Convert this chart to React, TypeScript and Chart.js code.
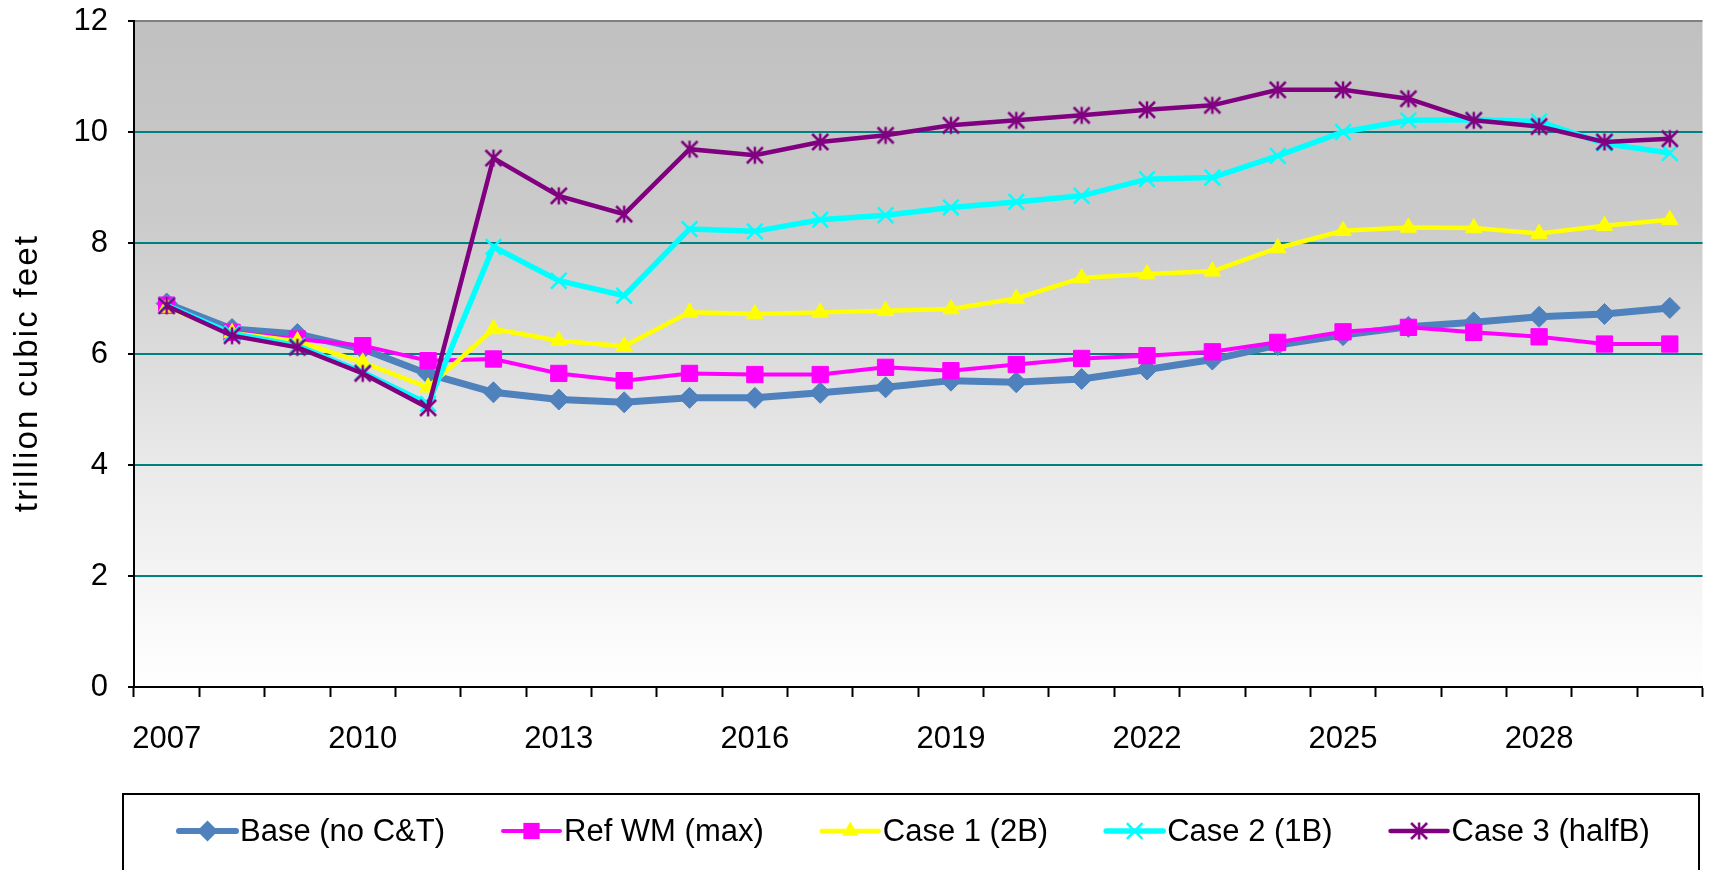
import React, { useEffect, useRef } from "react";
import { Chart, registerables } from "chart.js";

Chart.register(...registerables);

const years = [
  "2007", "2008", "2009", "2010", "2011", "2012", "2013", "2014", "2015", "2016", "2017", "2018",
  "2019", "2020", "2021", "2022", "2023", "2024", "2025", "2026", "2027", "2028", "2029", "2030",
];

const baseNoCT = [6.91, 6.45, 6.36, 6.09, 5.64, 5.31, 5.18, 5.13, 5.21, 5.21, 5.3, 5.4, 5.52, 5.49, 5.55, 5.72, 5.9, 6.16, 6.34, 6.49, 6.57, 6.67, 6.72, 6.83];
const refWM = [6.88, 6.39, 6.27, 6.15, 5.88, 5.91, 5.65, 5.52, 5.65, 5.63, 5.63, 5.76, 5.7, 5.81, 5.92, 5.97, 6.04, 6.21, 6.4, 6.48, 6.39, 6.31, 6.18, 6.18];
const case1 = [6.84, 6.38, 6.23, 5.85, 5.4, 6.45, 6.24, 6.14, 6.75, 6.72, 6.75, 6.78, 6.81, 7.0, 7.37, 7.44, 7.49, 7.91, 8.22, 8.28, 8.27, 8.17, 8.31, 8.42];
const case2 = [6.88, 6.37, 6.15, 5.67, 5.1, 7.93, 7.32, 7.05, 8.25, 8.21, 8.42, 8.5, 8.64, 8.74, 8.85, 9.15, 9.18, 9.57, 10.0, 10.21, 10.22, 10.19, 9.79, 9.62];
const case3 = [6.87, 6.33, 6.12, 5.65, 5.03, 9.53, 8.85, 8.52, 9.69, 9.58, 9.82, 9.94, 10.12, 10.21, 10.3, 10.4, 10.48, 10.76, 10.76, 10.6, 10.21, 10.1, 9.82, 9.88];

const seriesLabels = ["Base (no C&T)", "Ref WM (max)", "Case 1 (2B)", "Case 2 (1B)", "Case 3 (halfB)"];
const yTitle = "trillion cubic feet";

const FONT = "'Liberation Sans', Arial, sans-serif";

function makeStar(color: string) {
  const c = document.createElement("canvas");
  c.width = 20;
  c.height = 20;
  const g = c.getContext("2d")!;
  g.strokeStyle = color;
  g.lineWidth = 2.5;
  g.beginPath();
  g.moveTo(2, 2);
  g.lineTo(18, 18);
  g.moveTo(2, 18);
  g.lineTo(18, 2);
  g.moveTo(10, 1.5);
  g.lineTo(10, 18.5);
  g.stroke();
  return c;
}

function drawMarker(ctx: CanvasRenderingContext2D, style: any, x: number, y: number, r: number, color: string, bw: number) {
  ctx.save();
  ctx.fillStyle = color;
  ctx.strokeStyle = color;
  ctx.lineWidth = bw;
  ctx.beginPath();
  if (typeof style !== "string") {
    ctx.drawImage(style, x - style.width / 2, y - style.height / 2);
  } else if (style === "rectRot") {
    ctx.moveTo(x - r, y);
    ctx.lineTo(x, y - r);
    ctx.lineTo(x + r, y);
    ctx.lineTo(x, y + r);
    ctx.closePath();
    ctx.fill();
  } else if (style === "rect") {
    const s = Math.SQRT1_2 * r;
    ctx.rect(x - s, y - s, 2 * s, 2 * s);
    ctx.fill();
  } else if (style === "triangle") {
    let a = 0;
    ctx.moveTo(x + Math.sin(a) * r, y - Math.cos(a) * r);
    a += (2 * Math.PI) / 3;
    ctx.lineTo(x + Math.sin(a) * r, y - Math.cos(a) * r);
    a += (2 * Math.PI) / 3;
    ctx.lineTo(x + Math.sin(a) * r, y - Math.cos(a) * r);
    ctx.closePath();
    ctx.fill();
  } else if (style === "crossRot") {
    const d = Math.SQRT1_2 * r;
    ctx.moveTo(x - d, y - d);
    ctx.lineTo(x + d, y + d);
    ctx.moveTo(x - d, y + d);
    ctx.lineTo(x + d, y - d);
    ctx.stroke();
  }
  ctx.restore();
}

const bgPlugin = {
  id: "plotBg",
  beforeDraw(chart: any) {
    const { ctx, chartArea } = chart;
    if (!chartArea) return;
    const g = ctx.createLinearGradient(0, chartArea.top, 0, chartArea.bottom);
    g.addColorStop(0, "#c0c0c0");
    g.addColorStop(0.3, "#cbcbcb");
    g.addColorStop(0.65, "#e8e8e8");
    g.addColorStop(1, "#ffffff");
    ctx.save();
    ctx.fillStyle = g;
    ctx.fillRect(chartArea.left, chartArea.top, chartArea.right - chartArea.left, chartArea.bottom - chartArea.top);
    ctx.restore();
  },
};

const yTitlePlugin = {
  id: "yTitle",
  afterDraw(chart: any) {
    const ctx: any = chart.ctx;
    ctx.save();
    ctx.translate(37, 374);
    ctx.rotate(-Math.PI / 2);
    ctx.font = `33px ${FONT}`;
    ctx.fillStyle = "#000000";
    ctx.textAlign = "center";
    ctx.textBaseline = "alphabetic";
    try { ctx.letterSpacing = "2.2px"; } catch (e) {}
    ctx.fillText(yTitle, 1, 0);
    ctx.restore();
  },
};

const legendPlugin = {
  id: "boxLegend",
  afterDraw(chart: any) {
    const ctx: CanvasRenderingContext2D = chart.ctx;
    ctx.save();
    ctx.strokeStyle = "#000000";
    ctx.lineWidth = 2;
    ctx.strokeRect(123, 794, 1699 - 123, 120);
    ctx.font = `31px ${FONT}`;
    ctx.textBaseline = "middle";
    ctx.textAlign = "left";
    const y = 831;
    let x = 179;
    const symW = 57;
    chart.data.datasets.forEach((ds: any) => {
      ctx.save();
      ctx.strokeStyle = ds.borderColor;
      ctx.lineWidth = Math.min(ds.borderWidth, 6);
      ctx.lineCap = "round";
      ctx.beginPath();
      ctx.moveTo(x, y);
      ctx.lineTo(x + symW, y);
      ctx.stroke();
      ctx.restore();
      drawMarker(ctx, ds.pointStyle, x + symW / 2, y, ds.pointRadius, ds.borderColor, ds.pointBorderWidth);
      ctx.fillStyle = "#000000";
      const tx = x + symW + 4;
      ctx.fillText(ds.label, tx, y + 1);
      x = tx + ctx.measureText(ds.label).width + 58;
    });
    ctx.restore();
  },
};

export default function App() {
  const ref = useRef<HTMLCanvasElement | null>(null);

  useEffect(() => {
    if (!ref.current) return;
    Chart.defaults.font.family = FONT;
    const star = makeStar("#800080");
    const chart = new Chart(ref.current, {
      type: "line",
      data: {
        labels: years,
        datasets: [
          { label: seriesLabels[0], data: baseNoCT, borderColor: "#4F81BD", backgroundColor: "#4F81BD", borderWidth: 7, pointStyle: "rectRot", pointRadius: 10.5, pointHoverRadius: 10.5, pointBorderWidth: 1, pointBackgroundColor: "#4F81BD", pointBorderColor: "#4F81BD", order: 4, tension: 0 },
          { label: seriesLabels[1], data: refWM, borderColor: "#FF00FF", backgroundColor: "#FF00FF", borderWidth: 4, pointStyle: "rect", pointRadius: 11.5, pointHoverRadius: 11.5, pointBorderWidth: 1, pointBackgroundColor: "#FF00FF", pointBorderColor: "#FF00FF", order: 3, tension: 0 },
          { label: seriesLabels[2], data: case1, borderColor: "#FFFF00", backgroundColor: "#FFFF00", borderWidth: 4.5, pointStyle: "triangle", pointRadius: 9.5, pointHoverRadius: 9.5, pointBorderWidth: 1, pointBackgroundColor: "#FFFF00", pointBorderColor: "#FFFF00", order: 2, tension: 0 },
          { label: seriesLabels[3], data: case2, borderColor: "#00FFFF", backgroundColor: "#00FFFF", borderWidth: 5.5, pointStyle: "crossRot", pointRadius: 11, pointHoverRadius: 11, pointBorderWidth: 2.5, pointBackgroundColor: "#00FFFF", pointBorderColor: "#00FFFF", order: 1, tension: 0 },
          { label: seriesLabels[4], data: case3, borderColor: "#800080", backgroundColor: "#800080", borderWidth: 4.5, pointStyle: star, pointRadius: 10, pointHoverRadius: 10, pointBorderWidth: 2.5, pointBackgroundColor: "#800080", pointBorderColor: "#800080", order: 0, tension: 0 },
        ],
      },
      options: {
        responsive: false,
        animation: false,
        events: [],
        layout: { padding: { top: 21, left: 0, right: 0, bottom: 0 } },
        plugins: { legend: { display: false }, tooltip: { enabled: false } },
        scales: {
          x: {
            type: "category",
            offset: true,
            grid: { offset: true, drawOnChartArea: false, drawTicks: true, tickLength: 10, tickColor: "#000000", tickWidth: 2 },
            border: { display: true, color: "#000000", width: 2 },
            ticks: {
              autoSkip: false,
              maxRotation: 0,
              minRotation: 0,
              padding: 24,
              color: "#000000",
              font: { size: 31, family: FONT },
              callback: (_v: any, i: number) => (i % 3 === 0 ? years[i] : ""),
            },
            afterFit: (s: any) => { s.height = 870 - 687; s.paddingLeft = 0; s.paddingRight = 0; },
          },
          y: {
            min: 0,
            max: 12,
            ticks: { stepSize: 2, padding: 20, color: "#000000", font: { size: 31, family: FONT } },
            grid: {
              drawTicks: true,
              tickLength: 6,
              tickColor: "#000000",
              tickWidth: 2,
              lineWidth: 2,
              color: (c: any) => (c.tick && c.tick.value === 12 ? "#808080" : c.tick && c.tick.value === 0 ? "#000000" : "#008080"),
            },
            border: { display: true, color: "#000000", width: 2 },
            title: { display: false, text: yTitle },
            afterFit: (s: any) => { s.width = 134; s.paddingTop = 0; s.paddingBottom = 0; },
          },
        },
      },
      plugins: [bgPlugin, yTitlePlugin, legendPlugin],
    });
    return () => chart.destroy();
  }, []);

  return (
    <div style={{ position: "fixed", left: 0, top: 0, width: 1711, height: 870, overflow: "hidden", background: "#ffffff" }}>
      <canvas ref={ref} width={1716} height={870} style={{ width: 1716, height: 870, display: "block" }} />
    </div>
  );
}
